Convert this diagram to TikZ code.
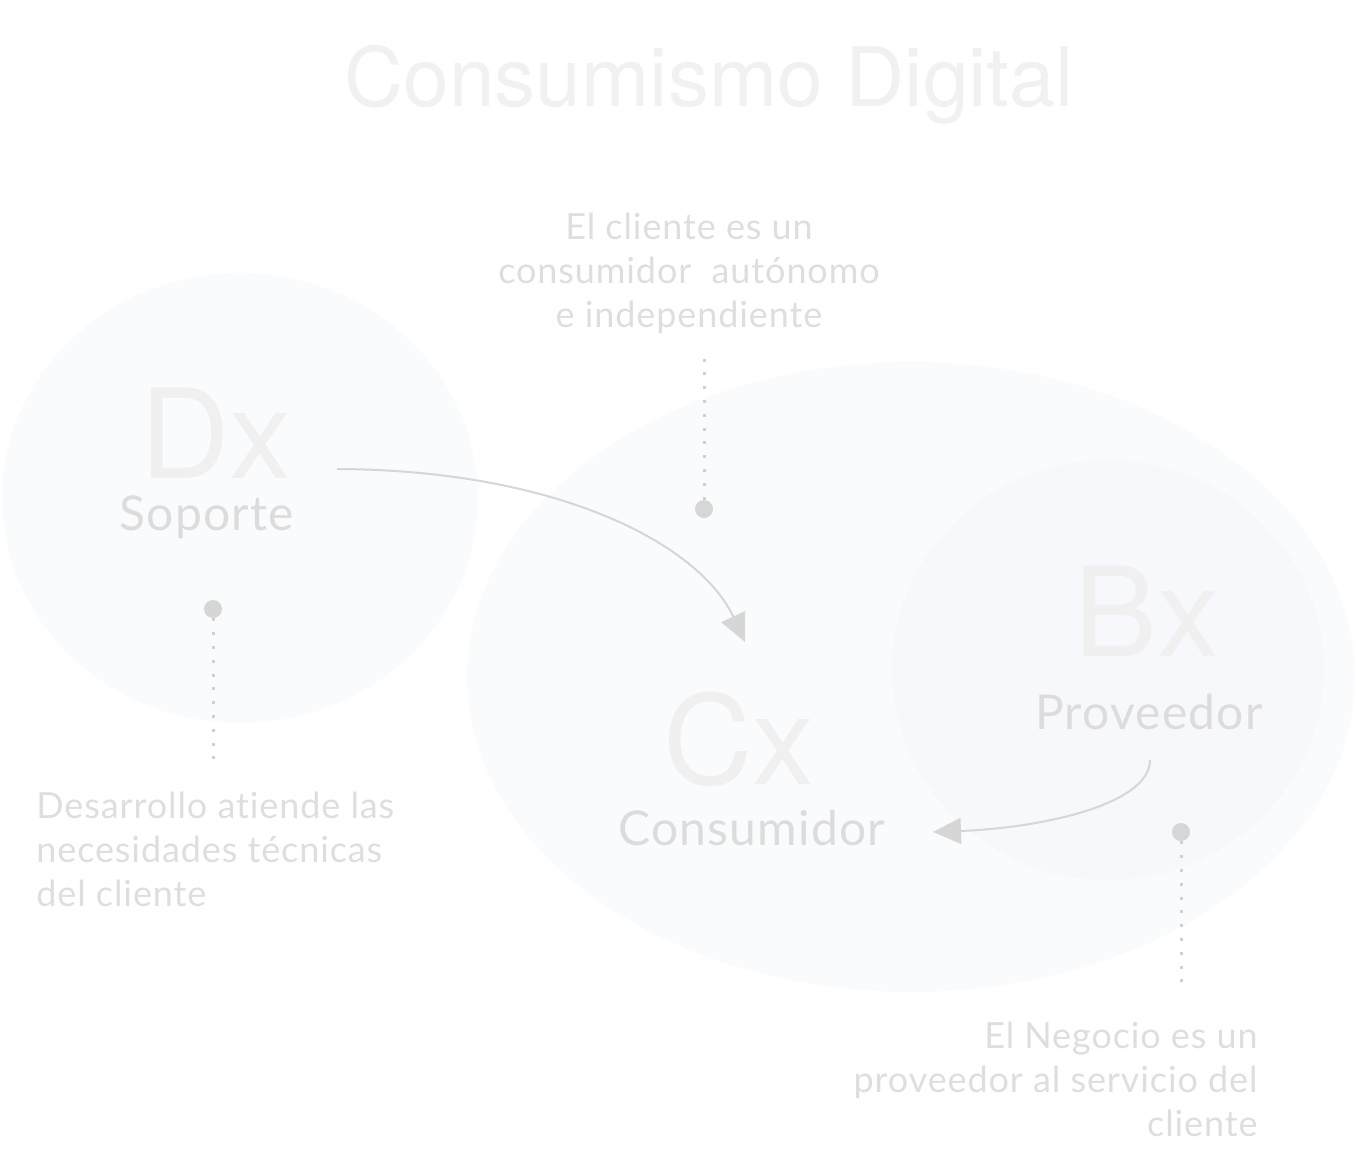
\documentclass[tikz,border=0pt]{standalone}
\usepackage{fontspec}
\setmainfont{Lato}
\newfontfamily\heros{TeX Gyre Heros}
\newfontfamily\widelato[LetterSpace=2.5,Ligatures=NoCommon]{Lato}
\usetikzlibrary{arrows.meta,positioning}
\definecolor{titlegray}{HTML}{F1F1F1}
\definecolor{lettergray}{HTML}{F0F0F0}
\definecolor{labelgray}{HTML}{DCDCDC}
\definecolor{notegray}{HTML}{DEDEDE}
\definecolor{arrowgray}{HTML}{D6D6D6}
\definecolor{dotgray}{HTML}{D6D6D6}
\definecolor{leadgray}{HTML}{D0D0D0}
\definecolor{outerblob}{HTML}{FAFBFD}
\definecolor{innerblob}{HTML}{F7F8FC}
\tikzset{
  BlobStyle/.style = {fill = outerblob, draw = none},
  LetterStyle/.style = {font = \heros\fontsize{62}{62}\selectfont,
                        text = lettergray, inner sep = 0pt, anchor = base},
  RoleStyle/.style = {font = \widelato\fontsize{24}{24}\selectfont,
                      text = labelgray, inner sep = 0pt, anchor = base},
  NoteStyle/.style = {font = \widelato\fontsize{18}{22}\selectfont,
                      text = notegray, inner sep = 0pt},
  FlowStyle/.style = {-{Triangle[length=14pt,width=13pt]},
                      line width = 1pt, draw = arrowgray},
  LeaderStyle/.style = {draw = leadgray, line width = 1.5pt,
                        dash pattern = on 1.5pt off 5.4pt},
  PinStyle/.style = {circle, fill = dotgray, draw = none,
                     minimum size = 9pt, inner sep = 0pt} }

\begin{document}
\begin{tikzpicture}[x=0.5pt,y=-0.5pt]
  \useasboundingbox (0,0) rectangle (1356,1173);

  % fondos
  \fill[BlobStyle] (240,498) ellipse [x radius=238, y radius=225];
  \fill[BlobStyle] (911,677) ellipse [x radius=444, y radius=315];
  \fill[BlobStyle, fill=innerblob] (1108,670) ellipse [x radius=216, y radius=210];

  \node[font=\heros\fontsize{41}{41}\selectfont, text=titlegray,
        inner sep=0pt, anchor=base] (title) at (709,106) {Consumismo Digital};

  \node[LetterStyle] (dx) at (216,478) {Dx};
  \node[RoleStyle] (soporte) at (207,530) {Soporte};
  \node[LetterStyle] (cx) at (739,784) {Cx};
  \node[RoleStyle] (consumidor) at (752,845) {Consumidor};
  \node[LetterStyle] (bx) at (1147,656) {Bx};
  \node[RoleStyle] (proveedor) at (1149,729) {Proveedor};

  \node[NoteStyle, align=center, anchor=north] (notecx) at (689,213)
    {El cliente es un\\consumidor\ \ autónomo\\e independiente};
  \node[NoteStyle, align=left, anchor=north west] (notedx) at (36,792)
    {Desarrollo atiende las\\necesidades técnicas\\del cliente};
  \node[NoteStyle, align=right, anchor=north east] (notebx) at (1258,1022)
    {El Negocio es un\\proveedor al servicio del\\cliente};

  \node[PinStyle] (pincx) at (704,509) {};
  \node[PinStyle] (pindx) at (213,609) {};
  \node[PinStyle] (pinbx) at (1181,832) {};
  \coordinate (endcx) at (704,355);
  \coordinate (enddx) at (213,764);
  \coordinate (endbx) at (1181,988);
  \draw[LeaderStyle] (pincx) -- (endcx);
  \draw[LeaderStyle] (pindx) -- (enddx);
  \draw[LeaderStyle] (pinbx) -- (endbx);

  \coordinate (fromdx) at (337,469);
  \coordinate (tocx) at (745,642);
  \coordinate (frombx) at (1150,760);
  \coordinate (tocons) at (933,832);
  \draw[FlowStyle] (fromdx) .. controls (560,470) and (700,545) .. (tocx);
  \draw[FlowStyle] (frombx) .. controls (1150,805) and (1040,828) .. (tocons);
\end{tikzpicture}
\end{document}
